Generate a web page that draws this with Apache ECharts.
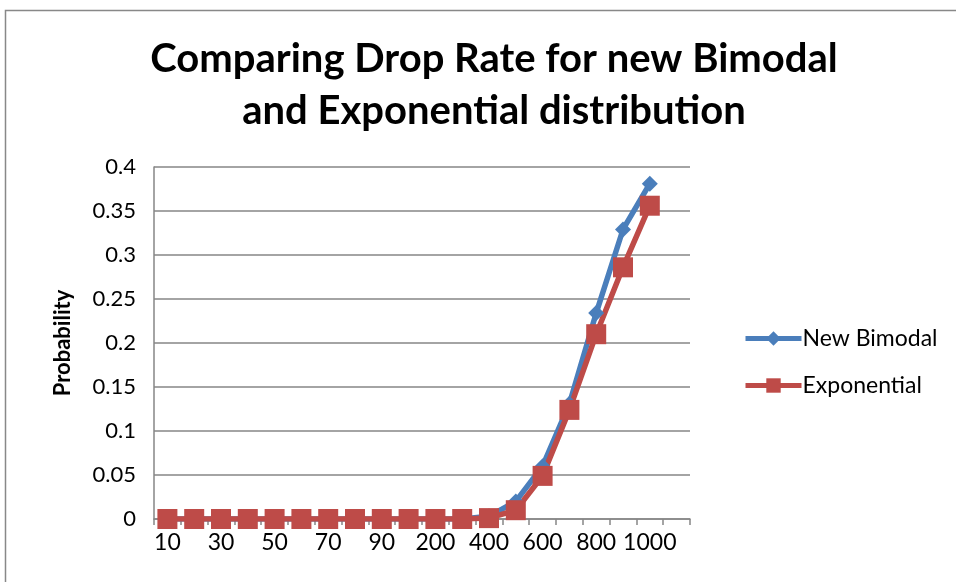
<!DOCTYPE html>
<html>
<head>
<meta charset="utf-8">
<script src="https://cdn.jsdelivr.net/npm/echarts@6/dist/echarts.min.js"></script>
<style>html,body{margin:0;padding:0;background:#fff}#c{width:956px;height:582px}</style>
</head>
<body>
<div id="c"></div>
<script>
const categories = ['10','20','30','40','50','60','70','80','90','100','200','300','400','500','600','700','800','900','1000',''];
const newBimodal = [0,0,0,0,0,0,0,0,0,0,0,0,0.003,0.02,0.06,0.131,0.234,0.329,0.381,null];
const exponential = [0,0,0,0,0,0,0,0,0,0,0,0,0.001,0.01,0.049,0.124,0.21,0.286,0.356,null];
const yTicks = [0,0.05,0.1,0.15,0.2,0.25,0.3,0.35,0.4];

const chart = echarts.init(document.getElementById('c'));
const font = 'Lato, "Open Sans", sans-serif';
chart.setOption({
  animation: false,
  backgroundColor: '#fff',
  graphic: [{type:'rect', shape:{x:5.5,y:10.5,width:1000,height:1000}, style:{fill:'none', stroke:'#888', lineWidth:1.5}, silent:true}],
  title: {
    text: 'Comparing Drop Rate for new Bimodal\nand Exponential distribution',
    left: 489, top: 28, textAlign: 'center',
    textStyle: {fontFamily: font, fontSize: 40, fontWeight: 'bold', color:'#000', lineHeight: 52}
  },
  legend: {
    orient: 'vertical', left: 738, top: 322, itemGap: 24, itemWidth: 56, itemHeight: 18,
    lineStyle: {width: 5},
    textStyle: {fontFamily: font, fontSize: 23, color:'#000', padding:[0,0,0,-4]},
    data: ['New Bimodal','Exponential']
  },
  grid: {left: 154, right: 266, top: 167, bottom: 63},
  xAxis: {
    type: 'category', data: categories, boundaryGap: true,
    axisLine: {lineStyle:{color:'#868686', width:1.5}},
    axisTick: {show:true, interval:0, length:6, lineStyle:{color:'#868686', width:1.5}},
    axisLabel: {interval: 1, fontFamily: font, fontSize: 23, color:'#000', margin: 12}
  },
  yAxis: {
    type: 'value', min: 0, max: 0.4, interval: 0.05,
    name: 'Probability', nameLocation: 'middle', nameGap: 80, nameRotate: 90,
    nameTextStyle: {fontFamily: font, fontSize: 22, fontWeight:'bold', color:'#000'},
    axisLine: {show:true, lineStyle:{color:'#868686', width:1.5}},
    axisTick: {show:false},
    splitLine: {lineStyle:{color:'#868686', width:1.5}},
    axisLabel: {fontFamily: font, fontSize: 22, color:'#000', margin: 18,
      formatter: v => { const t = yTicks.find(x => Math.abs(x - v) < 1e-9); return String(t !== undefined ? t : v); }}
  },
  series: [
    {name:'New Bimodal', type:'line', data:newBimodal, symbol:'diamond', symbolSize:16, showAllSymbol:true,
     lineStyle:{color:'#4A7EBB', width:5.5}, itemStyle:{color:'#4A7EBB'}},
    {name:'Exponential', type:'line', data:exponential, symbol:'rect', symbolSize:20, showAllSymbol:true,
     lineStyle:{color:'#BE4B48', width:5.5}, itemStyle:{color:'#BE4B48'}}
  ]
});
</script>
</body>
</html>
